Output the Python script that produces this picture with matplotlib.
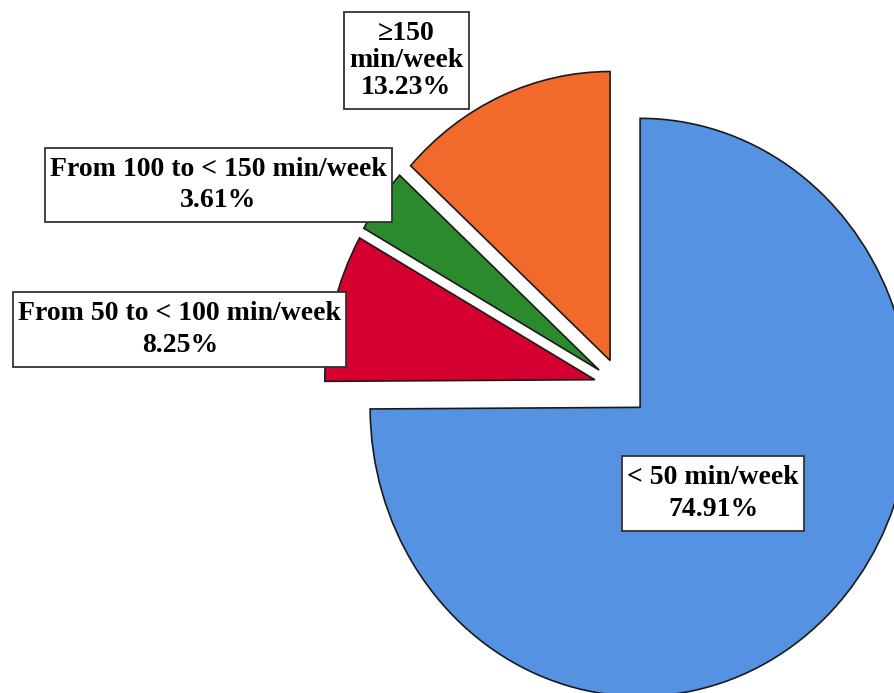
import matplotlib.pyplot as plt
from matplotlib.patches import Rectangle

# weekly activity groups, clockwise from 12 o'clock
labels = ["< 50 min/week", "From 50 to < 100 min/week",
          "From 100 to < 150 min/week", "\u2265150\nmin/week"]
shares = [74.91, 8.25, 3.61, 13.23]
colors = ["#5592E2", "#D50030", "#2B8A2B", "#F1692B"]

# label box centres in axes fraction
label_pos = [(0.797, 0.288), (0.201, 0.525), (0.244, 0.733), (0.454, 0.913)]

W, H = 895, 693
fig = plt.figure(figsize=(W / 100, H / 100), dpi=100)
ax = fig.add_axes([0, 0, 1, 1])

ax.pie(shares, colors=colors, startangle=90, counterclock=False,
       explode=[0.1] * len(shares),
       wedgeprops=dict(edgecolor="#1a1a1a", linewidth=1.2))

# pie is cut off at the right and bottom edges, slightly narrower than tall
ax.set_xlim(-2.300, 1.015)
ax.set_ylim(-1.059, 1.339)
ax.set_aspect("auto")
ax.axis("off")

texts = []
for lab, val, (x, y) in zip(labels, shares, label_pos):
    nlines = lab.count("\n") + 2
    t = ax.text(x, y, f"{lab}\n{val:.2f}%", transform=ax.transAxes,
                ha="center", va="center", multialignment="center",
                fontsize=20, fontweight="bold", family="Liberation Serif",
                linespacing=1.12 if nlines > 2 else 1.36, zorder=5)
    texts.append(t)

# white label boxes: tight at the sides, roomier above and below
fig.canvas.draw()
r = fig.canvas.get_renderer()
for t in texts:
    bb = t.get_window_extent(r)
    px, py = 5, 9
    fig.add_artist(Rectangle(((bb.x0 - px) / W, (bb.y0 - py) / H),
                             (bb.width + 2 * px) / W, (bb.height + 2 * py) / H,
                             transform=fig.transFigure, facecolor="white",
                             edgecolor="#333333", linewidth=1.3, zorder=4))
for t in texts:
    t.set_zorder(6)
    t.remove()
    fig.add_artist(t)

fig.savefig("out.png", dpi=100)
